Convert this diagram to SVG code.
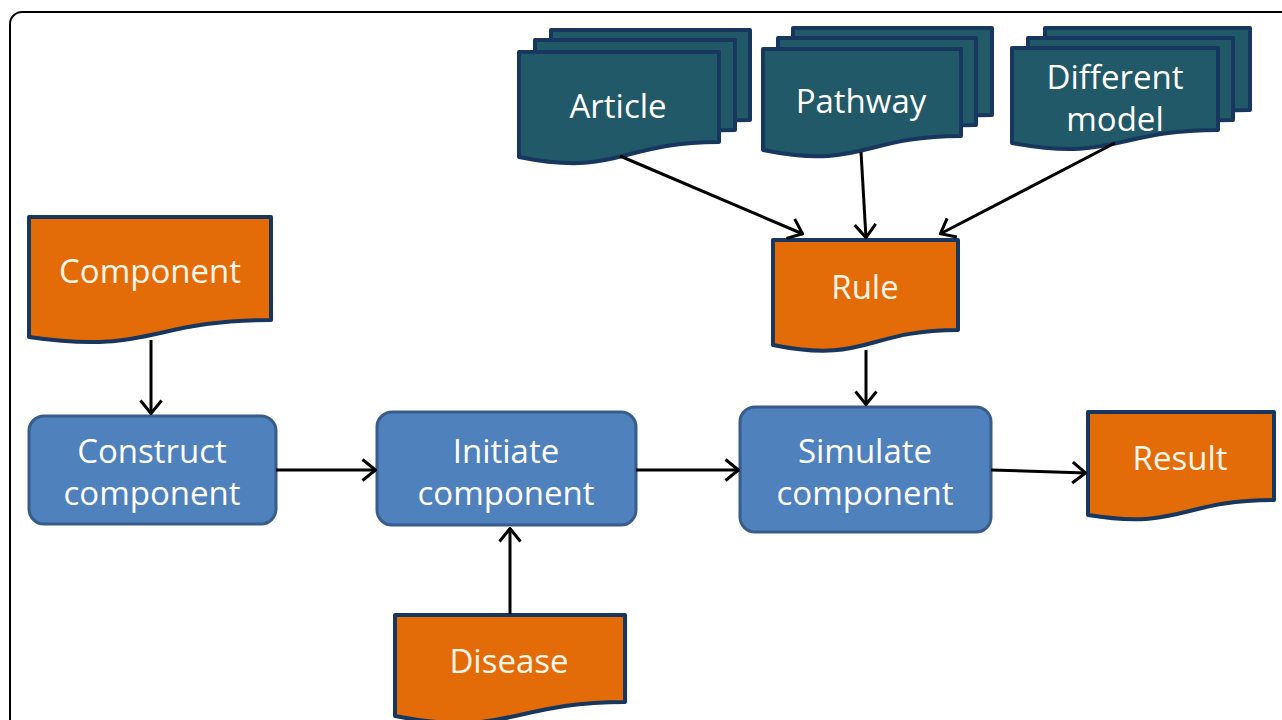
<svg xmlns="http://www.w3.org/2000/svg" width="1282" height="720" viewBox="0 0 1282 720">
<style>
.doc{fill:#E36C09;stroke:#17375E;stroke-width:4;stroke-linejoin:round}
.stk{fill:#215968;stroke:#17375E;stroke-width:4;stroke-linejoin:round}
.box{fill:#4F81BD;stroke:#385D8A;stroke-width:3}
.t{font-family:"Open Sans","Noto Sans",sans-serif;font-size:33px;fill:#FFFFFF;text-anchor:middle}
.to{fill:#FFF5E8}
.c{stroke:#000;stroke-width:3;fill:none;marker-end:url(#ah)}
</style>
<defs>
<marker id="ah" viewBox="0 0 16 24" refX="15" refY="12" markerWidth="16" markerHeight="24" markerUnits="userSpaceOnUse" orient="auto">
<polyline points="1.5,1.5 14.5,12 1.5,22.5" fill="none" stroke="#000" stroke-width="3"/>
</marker>
</defs>
<rect x="10" y="12" width="1320" height="800" rx="12" fill="#fff" stroke="#000" stroke-width="2"/>

<g id="component">
<path class="doc" d="M29,217 H271 V320 C150,320 150,355 29,337 Z"/>
<text class="t to" x="150" y="283">Component</text>
</g>

<g id="construct">
<rect class="box" x="29" y="416" width="247" height="108" rx="15"/>
<text class="t" x="152" y="463">Construct</text>
<text class="t" x="152" y="505">component</text>
</g>

<g id="initiate">
<rect class="box" x="377" y="412" width="259" height="113" rx="15"/>
<text class="t" x="506" y="463">Initiate</text>
<text class="t" x="506" y="505">component</text>
</g>

<g id="simulate">
<rect class="box" x="740" y="407" width="251" height="125" rx="15"/>
<text class="t" x="865" y="463">Simulate</text>
<text class="t" x="865" y="505">component</text>
</g>

<g id="result">
<path class="doc" d="M1088,412 H1274 V500 C1181,500 1181,530 1088,515 Z"/>
<text class="t to" x="1180" y="470">Result</text>
</g>

<g id="rule">
<path class="doc" d="M773,240 H958 V330 C866,330 866,364 773,345 Z"/>
<text class="t to" x="865" y="299">Rule</text>
</g>

<g id="disease">
<path class="doc" d="M395,615 H625 V702 C510,702 510,738 395,716 Z"/>
<text class="t to" x="509" y="673">Disease</text>
</g>

<g id="article">
<path class="stk" d="M551,30 H750 V120 C650,120 650,155 551,135 Z"/>
<path class="stk" d="M535,40 H735 V130 C635,130 635,165 535,145 Z"/>
<path class="stk" d="M519,52 H719 V142 C619,142 619,177 519,157 Z"/>
<text class="t" x="618" y="118">Article</text>
</g>

<g id="pathway">
<path class="stk" d="M793,28 H992 V115 C892,115 892,148 793,128 Z"/>
<path class="stk" d="M778,38 H976 V125 C877,125 877,158 778,138 Z"/>
<path class="stk" d="M763,49 H961 V136 C862,136 862,170 763,150 Z"/>
<text class="t" x="861" y="113">Pathway</text>
</g>

<g id="different">
<path class="stk" d="M1045,28 H1250 V110 C1147,110 1147,142 1045,123 Z"/>
<path class="stk" d="M1028,38 H1233 V120 C1130,120 1130,152 1028,133 Z"/>
<path class="stk" d="M1012,48 H1218 V130 C1115,130 1115,162 1012,143 Z"/>
<text class="t" x="1115" y="89">Different</text>
<text class="t" x="1115" y="131">model</text>
</g>

<g id="connectors">
<line class="c" x1="151" y1="340" x2="151" y2="414"/>
<line class="c" x1="276" y1="470" x2="376" y2="470"/>
<line class="c" x1="636" y1="470" x2="739" y2="470"/>
<line class="c" x1="991" y1="470" x2="1086" y2="473"/>
<line class="c" x1="510" y1="614" x2="510" y2="528"/>
<line class="c" x1="866" y1="350" x2="866" y2="405"/>
<line class="c" x1="620" y1="156" x2="803" y2="234"/>
<line class="c" x1="861" y1="152" x2="866" y2="238"/>
<line class="c" x1="1115" y1="143" x2="940" y2="234"/>
</g>
</svg>
